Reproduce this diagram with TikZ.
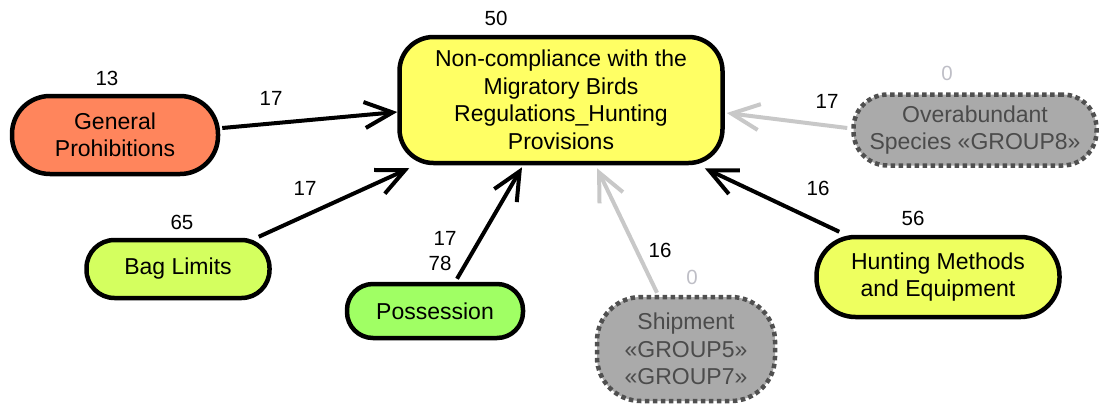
\documentclass[tikz,border=0pt]{standalone}
\usepackage{fontspec}
\setmainfont{Liberation Sans}
\usetikzlibrary{arrows.meta,calc}

\definecolor{prohib}{RGB}{255,133,92}
\definecolor{core}{RGB}{255,255,100}
\definecolor{baglim}{RGB}{212,255,95}
\definecolor{possess}{RGB}{160,255,100}
\definecolor{huntmeth}{RGB}{238,255,95}
\definecolor{ghostfill}{RGB}{170,170,170}
\definecolor{ghostline}{RGB}{80,80,80}
\definecolor{ghosttext}{RGB}{75,75,75}
\definecolor{ghostedge}{RGB}{200,200,200}
\definecolor{zerocount}{RGB}{190,190,198}

\tikzset{
  box/.style={draw=black, line width=4.5pt, align=center, inner sep=0pt,
    font=\fontsize{23}{27.5}\selectfont},
  ghost/.style={box, fill=ghostfill, draw=ghostline, text=ghosttext,
    dash pattern=on 4.5pt off 3.5pt},
  count/.style={font=\fontsize{20.5}{24}\selectfont, inner sep=0pt},
  link/.style={line width=4pt, -{Straight Barb[length=28pt,width=26pt]}},
  ghostlink/.style={link, draw=ghostedge},
}

\begin{document}
\begin{tikzpicture}[x=1pt,y=-1pt]
\useasboundingbox (0,0) rectangle (1102,408);

% concept nodes
\node[box, fill=core, minimum width=323pt, minimum height=126pt, rounded corners=34pt]
  (main) at (561,100) {Non-compliance with the\\Migratory Birds\\Regulations\_Hunting\\Provisions};
\node[box, fill=prohib, minimum width=206pt, minimum height=78pt, rounded corners=38pt]
  (gp) at (115,135) {General\\Prohibitions};
\node[box, fill=baglim, minimum width=183pt, minimum height=58pt, rounded corners=28pt]
  (bag) at (178,269) {Bag Limits};
\node[box, fill=possess, minimum width=176pt, minimum height=54pt, rounded corners=26pt]
  (poss) at (435,311) {Possession};
\node[ghost, minimum width=178pt, minimum height=104pt, rounded corners=44pt]
  (ship) at (686,349) {Shipment\\«GROUP5»\\«GROUP7»};
\node[box, fill=huntmeth, minimum width=243pt, minimum height=80pt, rounded corners=39pt]
  (hunt) at (938,277) {Hunting Methods\\and Equipment};
\node[ghost, minimum width=243pt, minimum height=71pt, rounded corners=34pt]
  (over) at (975,130) {Overabundant\\Species «GROUP8»};

% counts above the nodes
\node[count] (cmain) at (496,18) {50};
\node[count] (cgp) at (107,78) {13};
\node[count] (cbag) at (182,222) {65};
\node[count] (cposs) at (440,263) {78};
\node[count, text=zerocount] (cship) at (692,277) {0};
\node[count] (chunt) at (913,218) {56};
\node[count, text=zerocount] (cover) at (947,73) {0};

% connectors into the central node
\draw[link] ($(gp.east)+(2,-7)$) -- ($(main.west)+(0,12)$);
\draw[link] ($(bag.north east)+(-13,-1)$) -- ($(main.south west)+(12,3)$);
\draw[link] ($(poss.north)+(22,-3)$) -- ($(main.south)+(-39,2)$);
\draw[ghostlink] ($(ship.north)+(-29,-2)$) -- ($(main.south)+(36,3)$);
\draw[ghostlink] ($(over.west)+(-4,-2)$) -- ($(main.east)+(2,13)$);
\draw[link] ($(hunt.north west)+(25,-3)$) -- ($(main.south east)+(-20,3)$);

% connector weights
\node[count] (wgp) at (271,98) {17};
\node[count] (wbag) at (305,188) {17};
\node[count] (wposs) at (445,238) {17};
\node[count] (wship) at (660,250) {16};
\node[count] (wover) at (827,101) {17};
\node[count] (whunt) at (818,188) {16};
\end{tikzpicture}
\end{document}
